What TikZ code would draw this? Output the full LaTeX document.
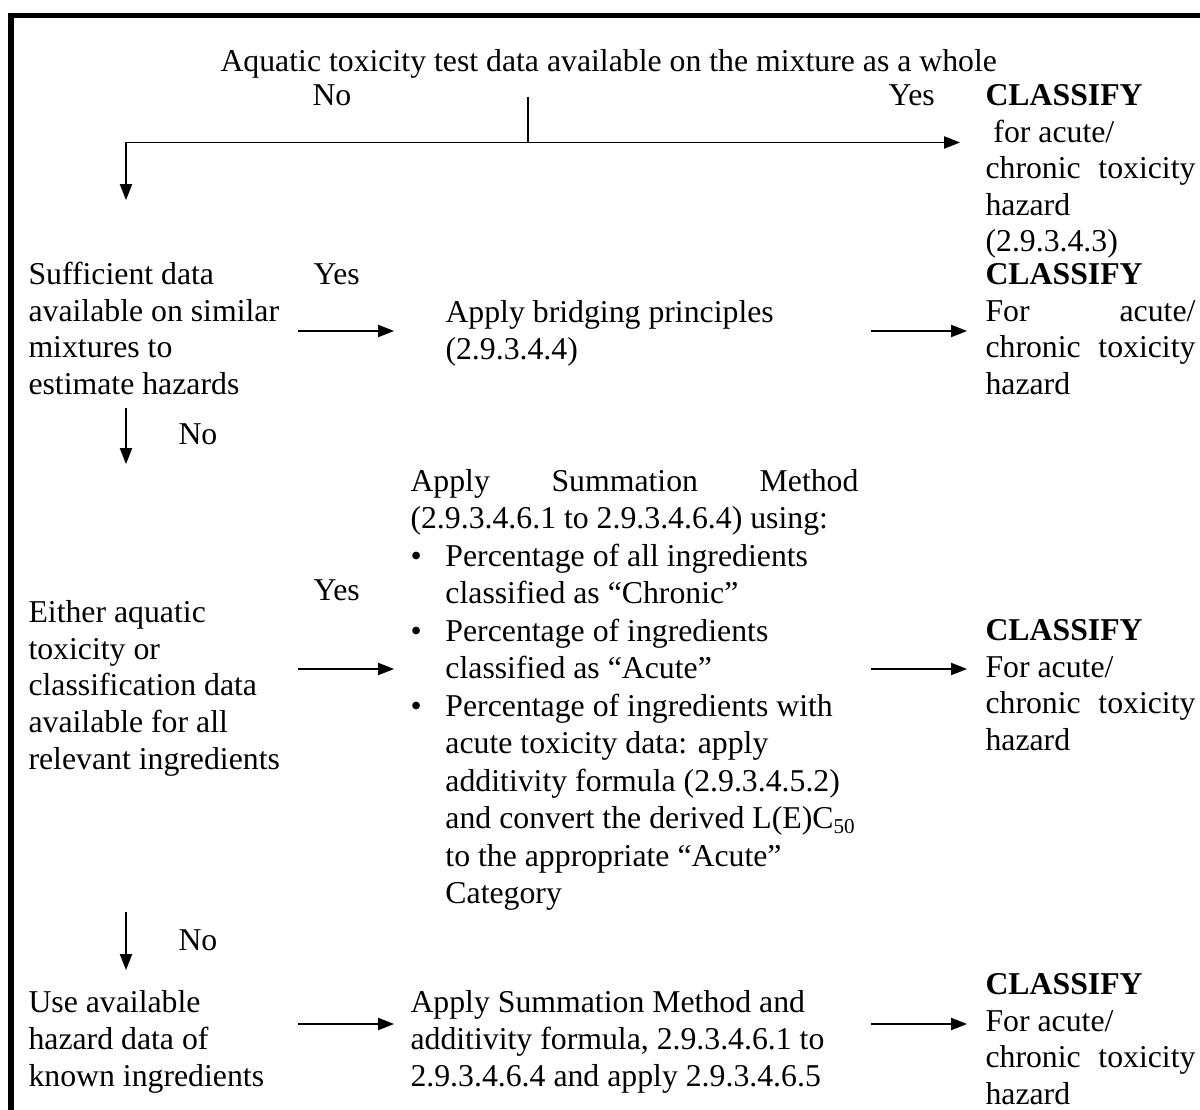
\documentclass[tikz,border=0pt]{standalone}
\usepackage{fontspec}
\setmainfont{Liberation Serif}
\usetikzlibrary{arrows.meta}

\newlength{\colw}\setlength{\colw}{79.3pt}
\newlength{\sumw}\setlength{\sumw}{169.2pt}
\newcommand{\blt}{\makebox[13.2pt][l]{\textbullet}}
\newcommand{\ind}{\hspace*{13.2pt}}

\begin{document}
\begin{tikzpicture}
		[   x=0.3777pt,y=-0.3777pt,
		    txt/.style={inner sep=0pt,anchor=base west,align=left,font=\fontsize{12pt}{13.79pt}\selectfont},
		]
		\tikzset{normal arrow/.style={draw,line width=0.55pt,-{Triangle[length=6pt,width=4.6pt]}}}
		\useasboundingbox (0,0) rectangle (1200,1110);
		\draw[line width=2pt] (11,1112) -- (11,15.5) -- (1202,15.5);

		% first question (nodes sit on the baseline of their last line)
		\node[txt] (title) at (220,72) {Aquatic toxicity test data available on the mixture as a whole};
		\node[txt] (no-1) at (312,106) {No};
		\node[txt] (yes-1) at (888,106) {Yes};
		\node[txt] (cls-1) at (985,252) {\textbf{CLASSIFY}\\ \ for acute/\\ \makebox[\colw][s]{chronic toxicity}\\ hazard\\ (2.9.3.4.3)};

		% similar mixtures
		\node[txt] (q-2) at (28,394.5) {Sufficient data\\available on similar\\mixtures to\\estimate hazards};
		\node[txt] (yes-2) at (313,285) {Yes};
		\node[txt] (act-2) at (445,359.5) {Apply bridging principles\\(2.9.3.4.4)};
		\node[txt] (cls-2) at (985,394.5) {\textbf{CLASSIFY}\\\makebox[\colw][s]{For acute/}\\\makebox[\colw][s]{chronic toxicity}\\hazard};
		\node[txt] (no-2) at (178,445) {No};

		% all ingredients known
		\node[txt] (q-3) at (28,769) {Either aquatic\\toxicity or\\classification data\\available for all\\relevant ingredients};
		\node[txt] (yes-3) at (313,601) {Yes};
		\node[txt,font=\fontsize{12pt}{14.16pt}\selectfont] (act-3) at (410,903.5)
			{\makebox[\sumw][s]{Apply Summation Method}\\
			 (2.9.3.4.6.1 to 2.9.3.4.6.4) using:\\
			 \blt Percentage of all ingredients\\
			 \ind classified as “Chronic”\\
			 \blt Percentage of ingredients\\
			 \ind classified as “Acute”\\
			 \blt Percentage of ingredients with\\
			 \ind acute toxicity data: apply\\
			 \ind additivity formula (2.9.3.4.5.2)\\
			 \ind and convert the derived L(E)C\textsubscript{50}\\
			 \ind to the appropriate “Acute”\\
			 \ind Category};
		\node[txt] (cls-3) at (985,750.5) {\textbf{CLASSIFY}\\For acute/\\\makebox[\colw][s]{chronic toxicity}\\hazard};
		\node[txt] (no-3) at (178,950) {No};

		% remaining ingredients
		\node[txt] (q-4) at (28,1086) {Use available\\hazard data of\\known ingredients};
		\node[txt] (act-4) at (410,1086) {Apply Summation Method and\\additivity formula, 2.9.3.4.6.1 to\\2.9.3.4.6.4 and apply 2.9.3.4.6.5};
		\node[txt] (cls-4) at (985,1104.5) {\textbf{CLASSIFY}\\For acute/\\\makebox[\colw][s]{chronic toxicity}\\hazard};

		\coordinate (top) at (528,97);
		\coordinate (split) at (528,142.5);
		\coordinate (bend) at (126,142.5);
		\coordinate (in-2) at (126,200);
		\coordinate (out-1) at (960,142.5);
		\coordinate (d-2) at (126,408);
		\coordinate (e-2) at (126,464);
		\coordinate (d-3) at (126,912);
		\coordinate (e-3) at (126,970);

		\draw[line width=0.55pt] (top) -- (split);
		\path[normal arrow] (split) -- (out-1);
		\path[normal arrow] (split) -- (bend) -- (in-2);
		\path[normal arrow] (d-2) -- (e-2);
		\path[normal arrow] (d-3) -- (e-3);

		\foreach \r/\y in {2/331,3/669,4/1024}
		{
			\coordinate (l-\r) at (298,\y);
			\coordinate (m-\r) at (394,\y);
			\coordinate (n-\r) at (871,\y);
			\coordinate (c-\r) at (967,\y);
			\path[normal arrow] (l-\r) -- (m-\r);
			\path[normal arrow] (n-\r) -- (c-\r);
		}
\end{tikzpicture}
\end{document}
